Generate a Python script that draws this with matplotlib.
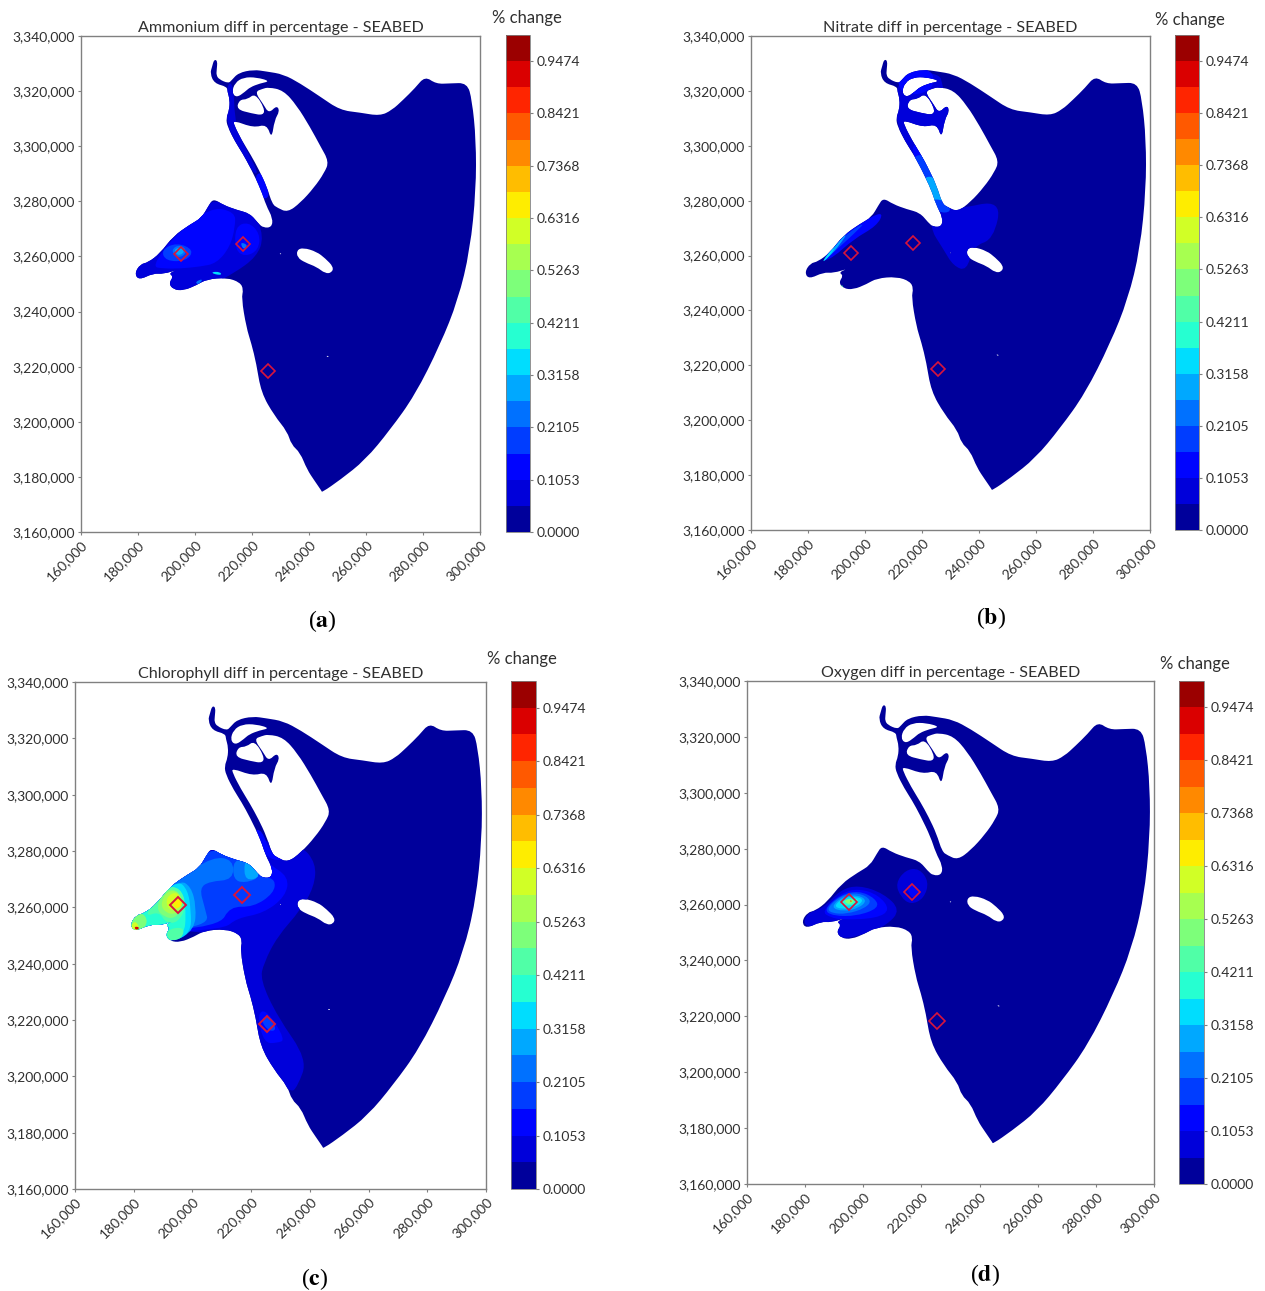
import numpy as np
import matplotlib
matplotlib.use('Agg')
import matplotlib.pyplot as plt
from matplotlib.path import Path
from matplotlib.patches import PathPatch
from matplotlib.colors import ListedColormap, BoundaryNorm
from matplotlib.cm import ScalarMappable
from matplotlib.ticker import FuncFormatter

plt.rcParams['font.family'] = ['Lato', 'DejaVu Sans']

# model domain, km (x, y)
outer_ring = [(206.7,3331.5),(207.9,3331.0),(207.6,3327.6),(207.5,3325.8),(208.4,3324.3),(211.7,3322.8),(212.9,3324.0),
    (215.2,3326.6),(220.5,3327.8),(225.2,3327.1),(231.0,3326.1),(236.9,3322.8),(243.9,3318.0),(250.9,3313.1),(257.9,3312.2),
    (264.9,3311.0),(269.1,3313.1),(273.0,3316.8),(277.2,3321.1),(280.7,3325.4),(284.6,3322.6),(289.5,3322.8),(295.5,3323.0),
    (297.2,3316.8),(298.6,3302.3),(298.6,3284.1),(296.5,3262.3),(292.3,3244.2),(286.0,3227.9),(277.2,3209.7),(268.4,3197.0),
    (259.7,3186.1),(250.9,3178.9),(244.6,3174.4),(244.4,3174.9),(242.0,3178.5),(239.3,3182.7),(236.9,3188.8),(233.8,3191.7),(232.4,3196.4),
    (227.8,3202.3),(223.2,3210.6),(221.5,3221.2),(219.8,3228.3),(218.0,3234.3),(216.3,3244.9),(217.0,3248.0),(215.8,3250.6),
    (211.1,3252.3),(204.1,3251.7),(200.6,3249.6),(195.9,3247.6),(192.4,3248.0),(190.8,3250.2),(192.4,3252.7),(190.8,3253.9),
    (194.2,3255.3),(188.9,3253.6),(185.4,3253.9),(180.3,3251.4),(178.8,3253.9),(180.8,3257.2),(183.5,3257.8),(187.7,3261.1),
    (192.4,3267.4),(198.3,3271.6),(202.3,3274.0),(204.7,3278.3),(206.4,3281.0),(209.9,3278.7),(214.6,3276.9),(219.3,3275.6),
    (222.2,3272.0),(224.0,3270.4),(226.9,3270.6),(227.3,3273.8),(224.9,3278.6),(223.2,3284.1),(219.6,3291.9),(216.7,3297.4),
    (214.1,3301.6),(211.4,3307.1),(210.9,3310.1),(212.0,3313.1),(212.2,3316.8),(211.4,3319.8),(211.2,3321.6),(206.8,3322.8),
    (205.3,3326.4),(206.0,3328.9)]
hole_north = [(212.9,3319.5),(214.0,3323.0),(217.0,3325.0),(221.6,3325.0),(226.4,3323.6),(222.8,3322.8),(219.3,3321.4),
    (217.6,3319.8),(214.6,3317.6)]
hole_dock = [(215.6,3316.9),(218.4,3317.0),(221.1,3319.2),(224.4,3313.75),(224.0,3311.2),(219.9,3311.9),(214.5,3313.4)]
hole_island = [(225.8,3321.4),(231.0,3320.3),(235.7,3314.8),(240.4,3306.9),(243.9,3300.2),(247.0,3294.4),(245.4,3290.4),
    (241.8,3285.0),(237.0,3279.5),(232.5,3276.0),(229.0,3277.6),(227.1,3279.0),(225.2,3285.3),(222.5,3291.3),(219.6,3296.8),
    (216.4,3302.2),(213.7,3307.7),(213.5,3309.4),(220.5,3306.7),(225.2,3308.0),(226.9,3302.6),(227.9,3309.5),(229.7,3312.7),
    (228.7,3314.8),(225.9,3311.9),(224.0,3315.2),(221.0,3319.7),(223.6,3320.8)]
hole_bar = [(235.7,3262.3),(238.0,3263.2),(242.7,3261.7),(245.7,3259.3),(248.6,3256.2),(248.0,3254.1),(245.7,3253.8),
    (242.7,3256.2),(238.6,3257.8),(235.9,3259.6)]
hole_dot1 = [(229.6,3261.0),(230.3,3261.2),(230.1,3260.7)]
hole_dot2 = [(246.0,3224.0),(247.0,3223.8),(246.6,3223.4)]

# stations
station_x = [195.0, 216.9, 225.5]
station_y = [3261.0, 3264.5, 3218.5]

# contour bands: band number and outline, low to high
ammonium_bands = [
    (1, [(178.4,3250.2),(179.6,3257.5),(191.2,3269.6),(205.3,3281.7),(220.5,3276.8),(224.2,3267.2),(221.7,3259.9),(213.5,3253.8),(206.5,3250.2),(191.3,3246.6)]),
    (1, [(211.1,3322.8),(213.5,3322.8),(214.1,3307.1),(218.7,3297.4),(222.3,3290.1),(220.5,3290.1),(216.4,3297.4),(210.9,3307.1)]),
    (2, [(184.8,3256.3),(192.4,3267.1),(205.3,3278.0),(214.1,3276.2),(214.1,3270.8),(212.3,3263.5),(207.6,3257.5),(201.8,3256.3),(194.8,3255.6),(188.9,3255.6)]),
    (2, [(185.4,3256.9),(191.3,3264.7),(198.9,3264.7),(201.8,3261.1),(196.5,3257.5),(190.1,3256.3)]),
    (2, [(214.1,3270.8),(218.7,3272.6),(222.8,3268.4),(222.3,3262.3),(217.6,3259.9),(214.1,3262.3)]),
    (2, [(220.7,3290.1),(224.4,3290.1),(226.4,3281.1),(223.0,3281.1)]),
    (3, [(188.1,3262.3),(193.6,3265.1),(199.7,3262.3),(196.9,3258.3),(189.8,3258.3)]),
    (4, [(215.8,3265.3),(218.7,3264.1),(217.0,3262.3)]),
    (4, [(200.0,3250.8),(203.0,3252.0),(201.2,3249.6)]),
    (4, [(191.4,3262.3),(194.8,3264.5),(197.5,3261.7),(194.2,3259.1)]),
    (5, [(192.4,3262.3),(194.8,3263.5),(196.5,3261.7),(194.2,3260.1)]),
    (6, [(205.9,3254.4),(208.8,3254.4),(209.4,3253.2),(206.5,3253.6)]),
]
nitrate_bands = [
    (1, [(222.3,3270.8),(226.4,3278.6),(232.2,3276.8),(248.0,3280.4),(245.1,3265.9),(238.0,3263.5),(235.7,3254.4),(231.0,3256.2),(227.5,3262.3)]),
    (1, [(210.9,3323.4),(218.2,3327.4),(226.4,3325.8),(226.9,3322.8),(229.9,3313.1),(227.5,3303.4),(222.8,3293.8),(218.7,3293.8),(210.6,3307.1)]),
    (2, [(211.0,3323.4),(214.0,3328.0),(224.0,3328.0),(224.0,3320.0),(214.0,3318.0)]),
    (2, [(215.9,3300.6),(221.1,3300.6),(224.1,3292.1),(218.7,3292.1)]),
    (3, [(215.9,3296.6),(223.1,3296.6),(225.4,3286.1),(219.7,3286.1)]),
    (5, [(219.7,3288.7),(225.4,3288.7),(228.8,3279.4),(222.2,3279.4)]),
    (3, [(222.2,3280.4),(228.0,3280.4),(230.7,3275.8),(225.4,3275.6)]),
    (2, [(184.2,3257.5),(192.4,3267.7),(202.4,3274.4),(206.5,3275.6),(204.1,3270.8),(195.9,3265.9),(188.9,3259.3)]),
    (3, [(184.8,3257.5),(192.4,3267.1),(200.6,3272.6),(195.9,3267.7),(188.9,3261.1)]),
    (5, [(184.8,3257.5),(189.5,3263.5),(194.2,3268.9),(191.3,3264.1),(187.2,3259.3)]),
    (6, [(184.8,3257.5),(188.3,3262.3),(189.5,3262.7),(186.6,3258.7)]),
    (8, [(191.3,3249.2),(192.4,3249.0),(192.2,3248.3)]),
]
chlorophyll_bands = [
    (1, [(235.9,3282.2),(241.1,3275.7),(240.5,3267.4),(235.9,3259.1),(227.9,3249.6),(223.3,3240.2),(222.1,3234.3),(227.9,3221.3),(238.2,3205.9),(234.8,3196.4),(232.4,3194.0),(219.8,3204.7),(216.4,3240.2),(208.3,3252.0),(177.3,3250.8),(177.3,3257.9),(202.6,3282.8),(223.3,3284.0)]),
    (2, [(224.4,3275.7),(231.9,3270.9),(230.7,3263.8),(223.2,3257.9),(214.0,3256.1),(209.5,3252.0),(177.3,3250.8),(177.3,3257.9),(203.7,3281.6),(224.4,3280.4)]),
    (2, [(219.8,3287.5),(222.7,3287.5),(225.5,3279.2),(231.3,3276.8),(224.4,3276.8)]),
    (2, [(221.0,3222.4),(224.4,3223.6),(230.7,3213.0),(227.9,3211.8),(223.3,3211.8)]),
    (3, [(222.1,3220.1),(225.0,3221.8),(227.9,3216.5),(225.0,3215.9)]),
    (3, [(177.3,3250.8),(177.3,3257.9),(194.5,3270.9),(204.3,3281.6),(218.1,3277.4),(223.3,3270.9),(227.3,3269.8),(226.7,3265.0),(219.8,3260.1),(211.7,3260.3),(208.3,3253.2)]),
    (3, [(177.3,3250.8),(177.3,3257.9),(194.5,3270.9),(204.3,3281.6),(218.1,3276.8),(222.7,3270.9),(224.4,3268.0),(220.9,3263.8),(215.2,3262.1),(208.3,3264.4),(204.8,3265.0),(206.0,3259.1),(207.2,3253.8)]),
    (4, [(177.3,3250.8),(177.3,3257.9),(194.5,3270.3),(206.0,3278.0),(212.9,3276.9),(212.9,3269.8),(204.8,3269.2),(201.4,3266.8),(203.1,3260.3),(204.8,3253.2)]),
    (4, [(212.9,3276.9),(218.1,3276.8),(222.7,3270.9),(216.9,3268.6),(212.9,3269.8)]),
    (5, [(216.6,3276.3),(218.4,3276.3),(222.7,3270.9),(216.9,3269.2)]),
    (5, [(177.3,3250.8),(177.3,3257.9),(194.5,3269.8),(198.5,3267.4),(200.3,3260.3),(199.7,3252.0),(192.2,3247.3)]),
    (6, [(177.3,3250.8),(177.3,3257.9),(193.9,3269.8),(197.4,3266.2),(198.5,3259.1),(198.5,3250.8),(191.1,3247.3)]),
    (7, [(177.3,3250.8),(177.3,3257.9),(186.5,3262.7),(192.2,3268.0),(196.2,3264.4),(196.8,3256.7),(196.2,3250.8),(191.1,3247.3)]),
    (8, [(183.0,3256.7),(185.3,3261.0),(189.5,3267.4),(195.0,3267.0),(197.0,3260.3),(194.0,3254.5),(189.9,3254.5),(187.6,3258.5)]),
    (8, [(189.9,3252.0),(196.2,3253.2),(195.6,3249.0),(191.1,3247.9)]),
    (9, [(177.3,3251.0),(177.8,3257.1),(181.9,3258.3),(184.0,3255.0),(181.3,3251.0)]),
    (9, [(186.5,3259.5),(189.5,3266.5),(194.5,3266.0),(196.0,3260.0),(193.0,3256.0),(189.5,3256.5)]),
    (10, [(188.0,3261.0),(190.5,3266.0),(194.5,3265.5),(195.8,3260.0),(193.0,3257.5),(190.0,3258.0)]),
    (11, [(190.0,3263.5),(193.5,3265.8),(195.8,3262.0),(193.5,3258.8),(190.5,3259.5)]),
    (12, [(192.0,3261.7),(193.9,3264.1),(195.9,3261.7),(193.9,3259.1)]),
    (11, [(177.8,3253.2),(179.6,3255.4),(181.2,3252.2),(178.2,3251.2)]),
    (17, [(179.0,3253.2),(181.1,3253.0),(180.0,3251.6)]),
    (16, [(188.9,3249.6),(191.3,3248.9),(190.0,3247.4)]),
]
oxygen_bands = [
    (1, [(178.5,3252.1),(179.7,3256.9),(185.5,3258.7),(191.2,3265.2),(197.6,3267.0),(206.2,3264.0),(212.0,3258.1),(207.4,3252.7),(200.5,3249.7),(191.2,3247.3),(185.5,3252.1)]),
    (1, [(210.3,3267.6),(213.7,3272.4),(218.4,3273.0),(221.8,3268.2),(220.1,3262.2),(215.5,3259.9),(212.0,3262.8)]),
    (2, [(213.7,3266.4),(216.3,3267.6),(218.9,3264.6),(216.3,3261.6)]),
    (2, [(184.9,3257.5),(191.2,3264.0),(197.6,3265.8),(204.5,3263.4),(208.5,3258.1),(203.9,3255.1),(192.4,3254.5),(187.8,3255.4)]),
    (3, [(185.5,3258.1),(191.2,3263.4),(197.6,3265.0),(203.4,3262.2),(204.5,3258.7),(197.0,3255.9),(188.9,3255.9)]),
    (4, [(186.6,3258.7),(191.8,3263.4),(197.6,3264.3),(202.2,3261.6),(199.9,3258.7),(193.5,3256.6),(188.3,3256.9)]),
    (5, [(187.8,3259.0),(192.4,3263.1),(197.6,3263.4),(200.5,3261.4),(197.6,3258.7),(192.4,3257.5)]),
    (6, [(188.9,3259.5),(193.0,3262.8),(197.6,3262.8),(199.3,3261.3),(196.4,3259.0),(191.8,3258.3)]),
    (7, [(190.6,3259.9),(193.5,3262.2),(197.0,3262.2),(197.6,3261.0),(195.3,3259.5)]),
    (9, [(192.4,3261.0),(194.1,3262.2),(196.4,3261.4),(194.7,3259.9)]),
    (15, [(194.5,3261.6),(195.4,3261.4),(194.9,3260.7)]),
]

titles = ['Ammonium diff in percentage - SEABED', 'Nitrate diff in percentage - SEABED',
          'Chlorophyll diff in percentage - SEABED', 'Oxygen diff in percentage - SEABED']
captions = ['a', 'b', 'c', 'd']
band_sets = [ammonium_bands, nitrate_bands, chlorophyll_bands, oxygen_bands]
x_ticks = list(range(160000, 300001, 20000))
y_ticks = list(range(3160000, 3340001, 20000))
levels = np.linspace(0, 1, 20)

# pixel boxes: left, right, top, bottom for map, then colourbar, then legend title and caption spot
W, H = 1265, 1291
map_boxes = [(81, 480, 36, 532), (751, 1150, 36, 530), (75, 486, 682, 1189), (747, 1154, 681, 1184)]
bar_boxes = [(506, 530, 35, 532), (1175, 1199, 35, 530), (511, 536, 681, 1189), (1179, 1204, 681, 1184)]
pct_spots = [(527, 18), (1190, 20), (522, 659), (1195, 664)]
cap_spots = [(322, 621), (991, 618), (315, 1279), (985, 1275)]
marker_sizes = [7.5, 7.5, 8.2, 7.7]
station_widths = [1.2, 1.2, 1.4, 1.2]
band_shift = [0.0, 0.0, 1.0, 0.8]  # c and d outlines were read a little left of the true frame

band_colors = [plt.get_cmap('jet')((i + 0.5) / 19) for i in range(19)]
cmap = ListedColormap(band_colors)
norm = BoundaryNorm(levels, 19)


def box_rect(box):
    l, r, t, b = box
    return [l / W, 1 - b / H, (r - l) / W, (b - t) / H]


def smooth_path(ring, ccw=None, shift=0.0):
    # rounded outline: quadratic curves through the edge midpoints
    pts = (np.array(ring) + [shift, 0]) * 1000
    if ccw is not None:
        area = np.sum(pts[:, 0] * np.roll(pts[:, 1], -1) - np.roll(pts[:, 0], -1) * pts[:, 1])
        if (area > 0) != ccw:
            pts = pts[::-1]
    mids = (pts + np.roll(pts, -1, axis=0)) / 2
    verts = [mids[-1]]
    codes = [Path.MOVETO]
    for p, m in zip(pts, mids):
        verts += [p, m]
        codes += [Path.CURVE3, Path.CURVE3]
    return Path(verts, codes)


domain = Path.make_compound_path(smooth_path(outer_ring, True), *[smooth_path(h, False) for h in
                                 [hole_north, hole_dock, hole_island, hole_bar, hole_dot1, hole_dot2]])

fig = plt.figure(figsize=(W / 100, H / 100), dpi=100)

for i in range(4):
    ax = fig.add_axes(box_rect(map_boxes[i]))
    base = PathPatch(domain, facecolor=band_colors[0], edgecolor='none', lw=0)
    ax.add_patch(base)
    for band, ring in band_sets[i]:
        blob = PathPatch(smooth_path(ring, shift=band_shift[i]), facecolor=band_colors[band], edgecolor='none', lw=0)
        ax.add_patch(blob)
        blob.set_clip_path(base)
    ax.plot(np.array(station_x) * 1000, np.array(station_y) * 1000, ls='none', marker='D', ms=marker_sizes[i],
            mfc='none', mec='#d8143c', mew=station_widths[i])
    ax.set_xlim(160000, 300000)
    ax.set_ylim(3160000, 3340000)
    ax.set_xticks(x_ticks)
    ax.set_yticks(y_ticks)
    fmt = FuncFormatter(lambda v, p: f'{int(v):,}')
    ax.xaxis.set_major_formatter(fmt)
    ax.yaxis.set_major_formatter(fmt)
    ax.tick_params(axis='x', labelsize=10, length=2.5, width=0.8, color='#808080', labelcolor='#303030', pad=2)
    ax.tick_params(axis='y', labelsize=10, length=2.5, width=0.8, color='#808080', labelcolor='#303030', pad=2)
    for lab in ax.get_xticklabels():
        lab.set_rotation(45)
        lab.set_ha('right')
        lab.set_rotation_mode('anchor')
    for s in ax.spines.values():
        s.set_color('#808080')
        s.set_linewidth(1.0)
    ax.set_title(titles[i], fontsize=11.6, color='#303030', pad=3)

    cax = fig.add_axes(box_rect(bar_boxes[i]))
    cb = fig.colorbar(ScalarMappable(norm=norm, cmap=cmap), cax=cax, ticks=levels[::2], format='%.4f')
    cb.minorticks_off()
    cb.ax.tick_params(labelsize=10, length=2.5, width=0.8, color='#808080', labelcolor='#303030', pad=2)
    cb.outline.set_edgecolor('#808080')
    cb.outline.set_linewidth(0.6)

    fig.text(pct_spots[i][0] / W, 1 - pct_spots[i][1] / H, '% change', fontsize=12, color='#303030',
             ha='center', va='center')
    x0, y0 = cap_spots[i][0] / W, 1 - cap_spots[i][1] / H
    fig.text(x0, y0, f'($\\mathbf{{{captions[i]}}}$)', fontsize=17, ha='center', va='center', color='black',
             family=['Liberation Serif'], math_fontfamily='stix')

fig.savefig('out.png', dpi=100)
